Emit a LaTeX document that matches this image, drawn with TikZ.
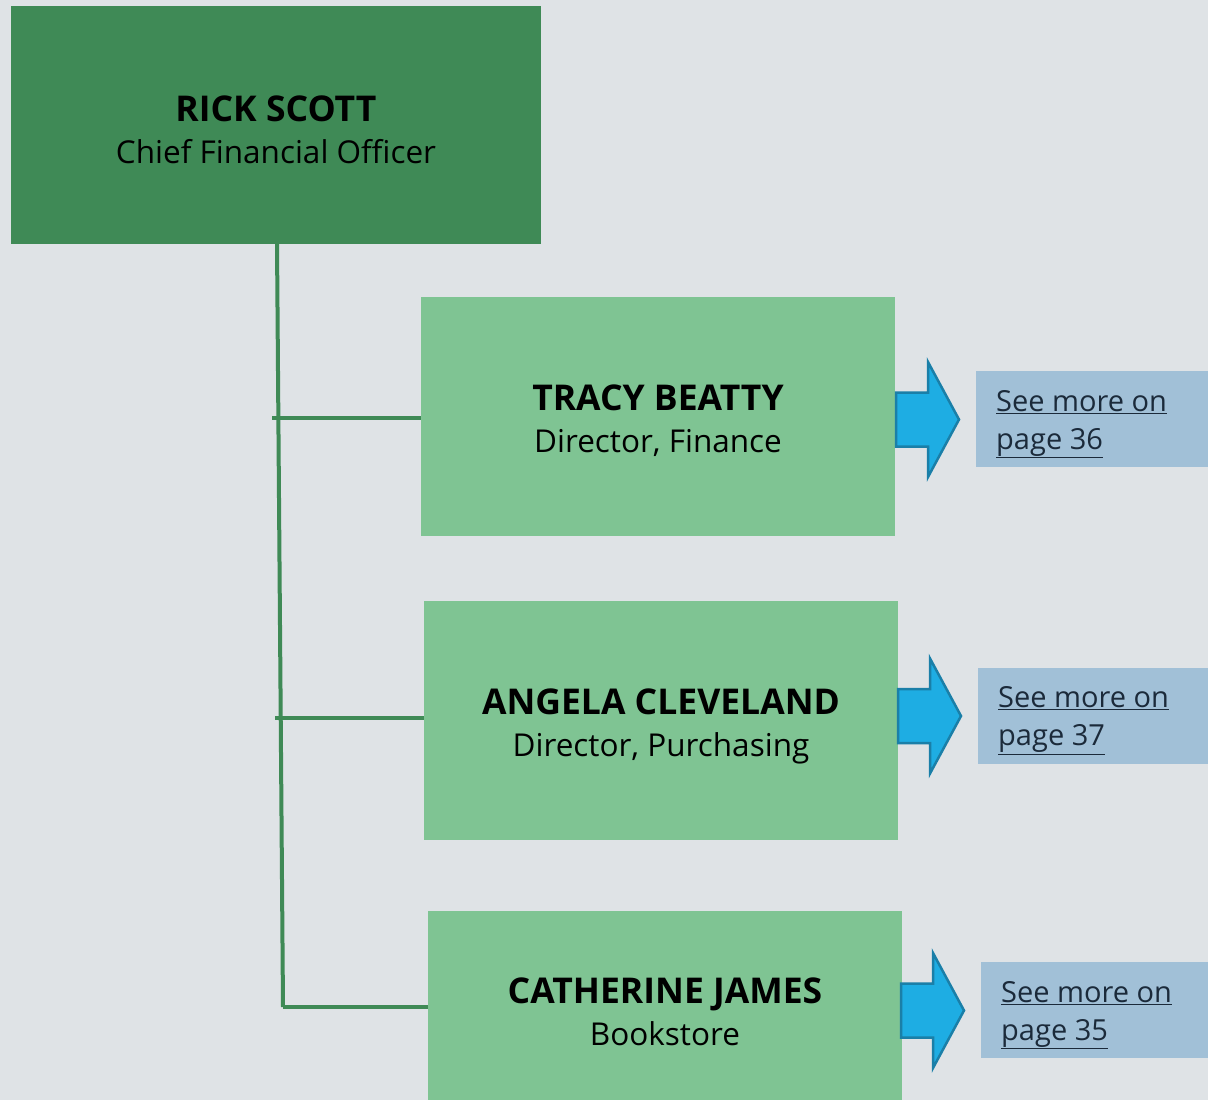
\documentclass[tikz,border=0pt]{standalone}
\usepackage{fontspec}
\setmainfont{Open Sans}
\definecolor{bgc}{HTML}{DFE3E6}
\definecolor{darkg}{HTML}{3F8A56}
\definecolor{lightg}{HTML}{7FC493}
\definecolor{arrowf}{HTML}{1EADE3}
\definecolor{arrowd}{HTML}{1A7FA8}
\definecolor{linkf}{HTML}{A1C0D7}
\definecolor{linkt}{HTML}{1B2A3A}
\tikzset{
  topbox/.style={rectangle, fill=darkg, minimum width=530pt, minimum height=238pt, inner sep=0pt},
  subbox/.style={rectangle, fill=lightg, minimum width=474pt, minimum height=239pt, inner sep=0pt},
  boxtxt/.style={align=center, inner sep=0pt, font=\fontsize{31.5}{42}\selectfont},
  conn/.style={draw=darkg, line width=4pt},
  goarrow/.style={fill=arrowf, draw=arrowd, line width=2.5pt, line join=miter},
  linkbox/.style={rectangle, fill=linkf, minimum height=96pt, minimum width=260pt, inner sep=0pt, anchor=west},
  linktxt/.style={align=left, inner sep=0pt, anchor=west, text=linkt, font=\fontsize{29}{38}\selectfont},
}
\newcommand{\nmtxt}[1]{{\fontsize{35.5}{42}\selectfont\bfseries #1}}
\newcommand{\bluearrow}[3]{% left x, center y, name
  \draw[goarrow] (#1,#2-27) -- (#1+32,#2-27) -- (#1+32,#2-57.5) -- (#1+63,#2) -- (#1+32,#2+57.5) -- (#1+32,#2+27) -- (#1,#2+27) -- cycle;
  \coordinate (#3) at (#1+63,#2);}
\begin{document}
\begin{tikzpicture}[x=1pt,y=-1pt]
\useasboundingbox (0,0) rectangle (1208,1100);
\clip (0,0) rectangle (1208,1100);
\fill[bgc] (0,0) rectangle (1208,1100);

\node[topbox] (rick) at (276,125) {};
\node[boxtxt] (ricktxt) at (276,130) {\nmtxt{RICK SCOTT}\\Chief Financial Officer};
\node[subbox] (tracy) at (658,416.5) {};
\node[boxtxt] (tracytxt) at (658,421) {\nmtxt{TRACY BEATTY}\\Director, Finance};
\node[subbox] (angela) at (661,720.5) {};
\node[boxtxt] (angelatxt) at (661,726) {\nmtxt{ANGELA CLEVELAND}\\Director, Purchasing};
\node[subbox, minimum height=200pt] (cath) at (665,1011) {};
\node[boxtxt] (cathtxt) at (665,1012) {\nmtxt{CATHERINE JAMES}\\Bookstore};

\coordinate (top) at (277,244);
\coordinate (bot) at (283,1007);
\coordinate (j1) at (272,418);
\coordinate (j2) at (275,718);
\draw[conn] (top) -- (bot);
\draw[conn] (j1) -- (j1 -| tracy.west);
\draw[conn] (j2) -- (j2 -| angela.west);
\draw[conn] (bot) -- (bot -| cath.west);

\bluearrow{896}{419.5}{a1}
\bluearrow{898}{716}{a2}
\bluearrow{901}{1010.5}{a3}

\node[linkbox] (l1) at (976,419) {};
\node[linktxt] (l1t) at (996,424) {\underline{See more on}\\\underline{page 36}};
\node[linkbox] (l2) at (978,715.5) {};
\node[linktxt] (l2t) at (998,720.5) {\underline{See more on}\\\underline{page 37}};
\node[linkbox] (l3) at (981,1010) {};
\node[linktxt] (l3t) at (1001,1015) {\underline{See more on}\\\underline{page 35}};
\end{tikzpicture}
\end{document}
